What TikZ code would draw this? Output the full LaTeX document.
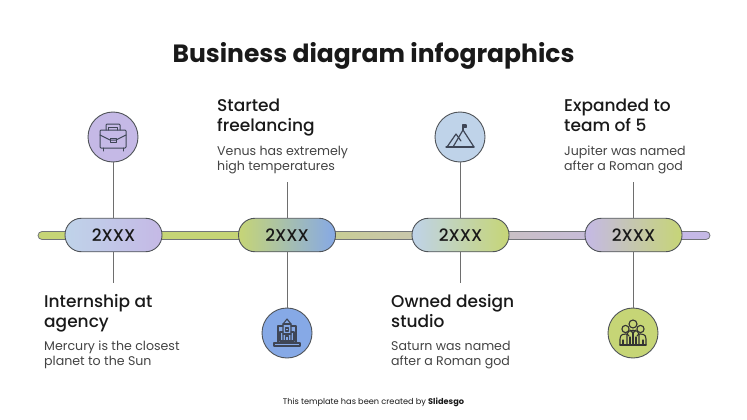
\documentclass[tikz,border=0pt]{standalone}
\usepackage{fontspec}
\setmainfont{Poppins}
\newfontfamily\medfont{Poppins Medium}
\definecolor{lineGray}{HTML}{6E6E6E}
\definecolor{edgeGray}{HTML}{4F5358}
\definecolor{iconDark}{HTML}{3F4656}
\definecolor{inkBlack}{HTML}{191919}
\definecolor{bodyGray}{HTML}{434343}
\definecolor{myGreen}{HTML}{C6D576}
\definecolor{myPurple}{HTML}{C5B9E6}
\definecolor{myBlue}{HTML}{86A9E6}
\definecolor{myPale}{HTML}{BFD3E9}
\definecolor{myTan}{HTML}{C8C9A2}
\definecolor{myMauve}{HTML}{C8BFC8}
\pgfdeclarehorizontalshading{barshade}{100bp}{
  color(0bp)=(myGreen); color(40bp)=(myGreen); color(50bp)=(myTan); color(61bp)=(myMauve); color(70bp)=(myPurple); color(100bp)=(myPurple)}
\tikzset{
  pill/.style={draw=edgeGray, line width=0.9pt, rounded corners=16.5pt, minimum width=97pt, minimum height=33.5pt, inner sep=0pt,
    font=\medfont\fontsize{17}{18}\selectfont, text=inkBlack},
  badge/.style={circle, draw=edgeGray, line width=0.9pt, minimum size=50pt, inner sep=0pt},
  stem/.style={draw=lineGray, line width=0.9pt},
  icon/.style={draw=iconDark, line width=1pt, line join=round, line cap=round},
  head/.style={anchor=north west, inner sep=0pt, align=left, font=\medfont\fontsize{17}{20}\selectfont, text=inkBlack},
  body/.style={anchor=north west, inner sep=0pt, align=left, font=\fontsize{12.6}{15}\selectfont, text=bodyGray}
}
\begin{document}
\begin{tikzpicture}[x=1pt,y=-1pt]
  \useasboundingbox (0,0) rectangle (747,420);
  % title and footer
  \node[inner sep=0pt, font=\bfseries\fontsize{25}{28}\selectfont, text=inkBlack] (title) at (373.5,56) {Business diagram infographics};
  \node[inner sep=0pt, font=\fontsize{8.2}{9}\selectfont, text=inkBlack] (credit) at (373.5,402) {This template has been created by \textbf{Slidesgo}};
  % timeline bar
  \node[draw=edgeGray!80, line width=0.8pt, rounded corners=4pt, minimum width=672pt, minimum height=8pt, inner sep=0pt, shading=barshade] (bar) at (374,235.5) {};
  % free ends of the stems
  \coordinate (s1) at (113,283);
  \coordinate (s2) at (287,182);
  \coordinate (s3) at (460,283);
  \coordinate (s4) at (633,182);
  % badges
  \node[badge, fill=myPurple] (c1) at (113,137) {};
  \node[badge, fill=myBlue] (c2) at (287,333) {};
  \node[badge, fill=myPale] (c3) at (460,137) {};
  \node[badge, fill=myGreen] (c4) at (633,333) {};
  % year pills
  \node[pill, left color=myPale, right color=myPurple] (p1) at (113.5,235) {2XXX};
  \node[pill, left color=myGreen, right color=myBlue] (p2) at (287,235) {2XXX};
  \node[pill, left color=myPale, right color=myGreen] (p3) at (460.5,235) {2XXX};
  \node[pill, left color=myPurple, right color=myGreen] (p4) at (633.5,235) {2XXX};
  % stems
  \draw[stem] (c1) -- (c1 |- p1.north);
  \draw[stem] (c1 |- p1.south) -- (s1);
  \draw[stem] (s2) -- (p2);
  \draw[stem] (p2) -- (c2);
  \draw[stem] (c3) -- (c3 |- p3.north);
  \draw[stem] (c3 |- p3.south) -- (s3);
  \draw[stem] (s4) -- (s4 |- p4.north);
  \draw[stem] (s4 |- p4.south) -- (c4);
  % texts
  \node[head] (h1) at (44,294) {Internship at\\agency};
  \node[body] (b1) at (44,341) {Mercury is the closest\\planet to the Sun};
  \node[head] (h2) at (217,99) {Started\\freelancing};
  \node[body] (b2) at (217,146) {Venus has extremely\\high temperatures};
  \node[head] (h3) at (391,294) {Owned design\\studio};
  \node[body] (b3) at (391,341) {Saturn was named\\after a Roman god};
  \node[head] (h4) at (564,99) {Expanded to\\team of 5};
  \node[body] (b4) at (564,146) {Jupiter was named\\after a Roman god};
  % briefcase
  \begin{scope}[shift={(c1)}, icon]
    \draw[rounded corners=1pt] (-13,-7) rectangle (13,11);
    \draw (-13,-2) -- (-3,3) -- (3,3) -- (13,-2);
    \draw (-3,1) rectangle (3,5);
    \draw[rounded corners=1pt] (-7,-7) -- (-7,-13) -- (7,-13) -- (7,-7);
    \draw (-4.5,-7) -- (-4.5,-10) -- (4.5,-10) -- (4.5,-7);
    \draw (-10,11) -- (-10,14);
    \draw (10,11) -- (10,14);
  \end{scope}
  % laptop with a building
  \begin{scope}[shift={(c2)}, icon, line width=1.1pt]
    \draw (-9,9) -- (-9,-7) -- (-4,-7);
    \draw (4,-7) -- (9,-7) -- (9,9);
    \draw (-13,10) -- (13,10) -- (13,13) -- (-13,13) -- cycle;
    \draw (-4,8) -- (-4,-9) -- (0,-14) -- (4,-9) -- (4,8);
    \draw (-4,-9) -- (4,-9);
    \draw (-7,8) -- (-7,-1) -- (-4,-1);
    \draw (7,8) -- (7,-1) -- (4,-1);
    \draw (-7,8) -- (7,8);
    \draw (-1.5,8) -- (-1.5,3) -- (1.5,3) -- (1.5,8);
    \draw (-1.5,-5) rectangle (1.5,-2);
    \draw (-4,1) -- (4,1);
  \end{scope}
  % mountains with a flag
  \begin{scope}[shift={(c3)}, icon, line width=1.2pt]
    \draw (-14,10) -- (14,10);
    \draw (-13,10) -- (-4,-3) -- (1,4);
    \draw (-7,10) -- (3,-7) -- (14,10);
    \draw (3,-7) -- (3,-12);
    \draw[fill=iconDark] (3,-12) rectangle (6,-9.5);
  \end{scope}
  % team of people
  \begin{scope}[shift={(c4)}, icon, draw=black!80, line width=1.1pt]
    \foreach \px/\py/\pr in {-7.5/-4/3.6,7.5/-4/3.6,0/-9/4}
      \draw (\px,\py) circle (\pr);
    \draw (-13,12) -- (-13,6) .. controls (-13,1) and (-9,1) .. (-7.5,1) .. controls (-6,1) and (-5,1) .. (-4,3);
    \draw (13,12) -- (13,6) .. controls (13,1) and (9,1) .. (7.5,1) .. controls (6,1) and (5,1) .. (4,3);
    \draw (-6,12) -- (-6,1) .. controls (-6,-4) and (6,-4) .. (6,1) -- (6,12);
    \draw (-13,12) -- (13,12);
    \draw (-10,12) -- (-10,7);
    \draw (10,12) -- (10,7);
    \draw (-3,12) -- (-3,4);
    \draw (3,12) -- (3,4);
    \draw (0,12) -- (0,-1);
    \draw (-3,-3) -- (0,0) -- (3,-3);
  \end{scope}
\end{tikzpicture}
\end{document}
